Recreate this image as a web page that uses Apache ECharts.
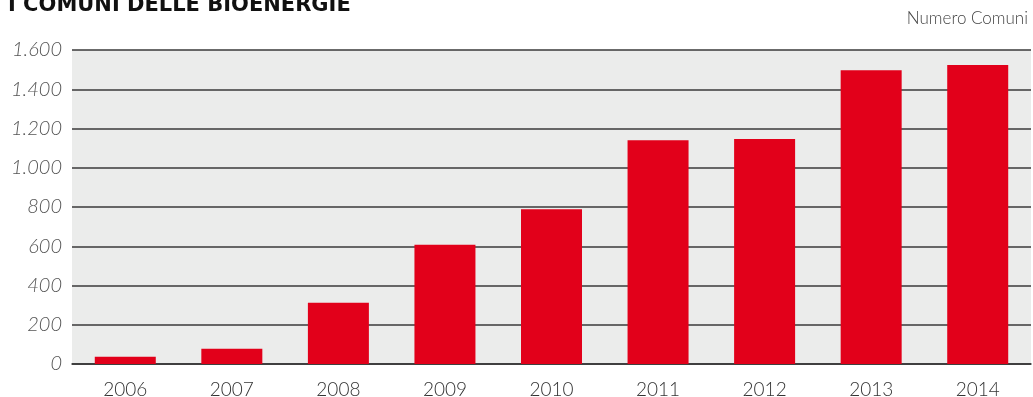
<!DOCTYPE html>
<html>
<head>
<meta charset="utf-8">
<script src="https://cdn.jsdelivr.net/npm/echarts@6/dist/echarts.min.js"></script>
<style>
  html, body { margin: 0; padding: 0; background: #fff; }
  #chart { width: 1033px; height: 397px; }
</style>
</head>
<body>
<div id="chart"></div>
<script>
  // dati
  var anni = ['2006', '2007', '2008', '2009', '2010', '2011', '2012', '2013', '2014'];
  var comuni = [37, 78, 312, 608, 789, 1140, 1146, 1497, 1523];
  var titolo = 'I COMUNI DELLE BIOENERGIE';
  var unita = 'Numero Comuni';

  var chart = echarts.init(document.getElementById('chart'));

  // separatore delle migliaia all'italiana
  function migliaia(v) {
    return String(v).replace(/\B(?=(\d{3})+(?!\d))/g, '.');
  }

  chart.setOption({
    animation: false,
    graphic: [
      {
        type: 'text', left: 8, top: -5,
        style: { text: titolo, font: 'bold 21px "DejaVu Sans"', fill: '#111' }
      },
      {
        type: 'text', right: 5, top: 10,
        style: { text: unita, font: '300 17px Lato', fill: '#444' }
      }
    ],
    grid: {
      left: 72, right: 2, top: 50, bottom: 33,
      outerBoundsMode: 'none',
      show: true, backgroundColor: '#ebeceb', borderWidth: 0
    },
    xAxis: {
      type: 'category',
      data: anni,
      axisLine: { lineStyle: { color: '#333', width: 1.5 } },
      axisTick: { length: 28, lineStyle: { color: '#444', width: 1.5 } },
      axisLabel: { color: '#333', fontSize: 19, fontFamily: 'Lato', fontWeight: 300, margin: 16 }
    },
    yAxis: {
      type: 'value',
      min: 0, max: 1600, interval: 200,
      axisLine: { show: false },
      axisTick: { show: false },
      splitLine: { lineStyle: { color: '#3a3a3a', width: 1.5 } },
      axisLabel: {
        color: '#555', fontSize: 20, fontStyle: 'italic', fontFamily: 'Lato', fontWeight: 300,
        margin: 10, formatter: migliaia
      }
    },
    series: [{
      type: 'bar',
      data: comuni,
      barWidth: 61,
      itemStyle: { color: '#e2001a' }
    }]
  });
</script>
</body>
</html>
